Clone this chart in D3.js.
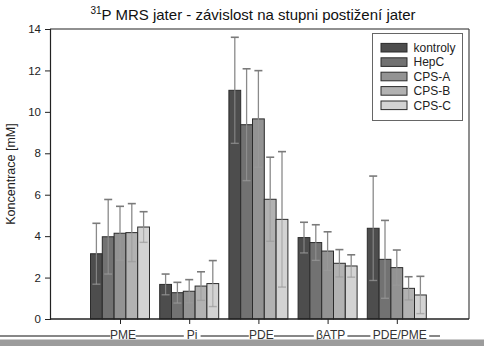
<!DOCTYPE html>
<html>
<head>
<meta charset="utf-8">
<script src="https://cdn.jsdelivr.net/npm/d3@7"></script>
<style>
  body { margin: 0; background: #fff; }
  svg { display: block; font-family: "Liberation Sans", Arial, sans-serif; }
</style>
</head>
<body>
<div id="graph"></div>
<script>
/* data */
const categories = ["PME", "Pi", "PDE", "βATP", "PDE/PME"]
const groups = ["kontroly", "HepC", "CPS-A", "CPS-B", "CPS-C"]
const colors = ["#4d4d4d", "#727272", "#939393", "#b2b2b2", "#d3d3d3"]
const yTicks = [0, 2, 4, 6, 8, 10, 12, 14]

// means per group, in category order
const kontroly = [3.15, 1.67, 11.04, 3.93, 4.38]
const hepC     = [3.97, 1.27, 9.38, 3.69, 2.88]
const cpsA     = [4.14, 1.34, 9.66, 3.28, 2.48]
const cpsB     = [4.17, 1.59, 5.78, 2.69, 1.48]
const cpsC     = [4.44, 1.71, 4.81, 2.56, 1.16]
// standard deviations
const kontrolySd = [1.47, 0.50, 2.56, 0.74, 2.52]
const hepCSd     = [1.80, 0.50, 2.70, 0.86, 1.88]
const cpsASd     = [1.30, 0.56, 2.33, 0.93, 0.85]
const cpsBSd     = [1.40, 0.69, 2.03, 0.66, 0.56]
const cpsCSd     = [0.74, 1.11, 3.27, 0.54, 0.90]

const means = [kontroly, hepC, cpsA, cpsB, cpsC]
const sds = [kontrolySd, hepCSd, cpsASd, cpsBSd, cpsCSd]

window.addEventListener("DOMContentLoaded", main)

function main() {
    const W = 484, H = 346
    const L = 50, R = 469, T = 29, B = 319

    const svg = d3.select("#graph").append("svg").attr("width", W).attr("height", H)

    /* bottom strip (scan artefacts) */
    svg.append("line").attr("x1", 0).attr("x2", 440).attr("y1", 336).attr("y2", 336)
        .attr("stroke", "#111").attr("stroke-width", 1.2)

    /* title */
    const title = svg.append("text").attr("x", 253).attr("y", 20)
        .attr("text-anchor", "middle").style("font-size", "15px").attr("fill", "#111")
    title.append("tspan").text("31").style("font-size", "10px").attr("dy", "-6")
    title.append("tspan").text("P MRS jater - závislost na stupni postižení jater").attr("dy", "6")

    /* scales */
    const y = d3.scaleLinear().domain([0, 14]).range([B, T])
    const x = d3.scalePoint().domain(categories).range([120, 396.8])
    const xInner = d3.scaleBand().domain(groups).range([-29.5, 29.5])

    /* frame */
    svg.append("line").attr("x1", L).attr("x2", R).attr("y1", T).attr("y2", T)
        .attr("stroke", "#222").attr("stroke-width", 1.2)
    svg.append("line").attr("x1", R).attr("x2", R).attr("y1", T).attr("y2", B)
        .attr("stroke", "#444").attr("stroke-width", 1.2)

    /* y axis */
    const yAxis = d3.axisLeft(y).tickValues(yTicks).tickSize(5).tickPadding(4)
    const ya = svg.append("g").attr("transform", "translate(" + L + ",0)").call(yAxis)
    ya.select(".domain").attr("stroke", "#222").attr("stroke-width", 1.2)
    ya.selectAll(".tick line").attr("stroke", "#222")
    ya.selectAll("text").style("font-size", "11.5px").attr("fill", "#222")
        .style("font-family", "Liberation Sans, Arial, sans-serif")

    svg.append("text")
        .attr("transform", "translate(15," + ((T + B) / 2) + ") rotate(-90)")
        .attr("text-anchor", "middle").style("font-size", "12.5px").attr("fill", "#222")
        .text("Koncentrace [mM]")

    /* bars */
    const rows = []
    categories.forEach((c, ci) => {
        groups.forEach((g, gi) => {
            rows.push({ cat: c, group: g, gi: gi, v: means[gi][ci], sd: sds[gi][ci] })
        })
    })

    svg.selectAll(".bar").data(rows).enter().append("rect")
        .attr("class", "bar")
        .attr("x", d => x(d.cat) + xInner(d.group))
        .attr("y", d => y(d.v))
        .attr("width", xInner.bandwidth())
        .attr("height", d => B - y(d.v))
        .attr("fill", d => colors[d.gi])
        .attr("stroke", "#2b2b2b").attr("stroke-width", 1)

    /* error bars */
    const eb = svg.selectAll(".err").data(rows).enter().append("g").attr("class", "err")
        .attr("transform", d => "translate(" + (x(d.cat) + xInner(d.group) + xInner.bandwidth() / 2) + ",0)")
    eb.append("line").attr("x1", 0).attr("x2", 0)
        .attr("y1", d => y(d.v)).attr("y2", d => y(d.v + d.sd))
        .attr("stroke", "#8a8a8a").attr("stroke-width", 1.3)
    eb.append("line").attr("x1", 0).attr("x2", 0)
        .attr("y1", d => y(d.v)).attr("y2", d => y(Math.max(0, d.v - d.sd)))
        .attr("stroke", "#9a9a9a").attr("stroke-opacity", 0.7).attr("stroke-width", 1.2)
    eb.append("line").attr("x1", -4).attr("x2", 4)
        .attr("y1", d => y(d.v + d.sd)).attr("y2", d => y(d.v + d.sd))
        .attr("stroke", "#7a7a7a").attr("stroke-width", 1.6)
    eb.append("line").attr("x1", -4).attr("x2", 4)
        .attr("y1", d => y(Math.max(0, d.v - d.sd))).attr("y2", d => y(Math.max(0, d.v - d.sd)))
        .attr("stroke", "#9a9a9a").attr("stroke-opacity", 0.7).attr("stroke-width", 1.4)

    /* x axis */
    const xAxis = d3.axisBottom(x).tickSize(5).tickFormat("")
    const xa = svg.append("g").attr("transform", "translate(0," + B + ")").call(xAxis)
    xa.select(".domain").remove()
    xa.selectAll(".tick line").attr("stroke", "#222")
    svg.append("line").attr("x1", L).attr("x2", R).attr("y1", B).attr("y2", B)
        .attr("stroke", "#222").attr("stroke-width", 1.4)

    /* category labels sit in the damaged bottom strip */
    const labs = svg.selectAll(".xl").data(categories).enter().append("g").attr("class", "xl")
    labs.append("rect")
        .attr("x", d => x(d) + 3 - d.length * 4.2).attr("y", 326)
        .attr("width", d => d.length * 8.4).attr("height", 14).attr("fill", "#fff")
    labs.append("text")
        .attr("x", d => x(d) + 3).attr("y", 339)
        .attr("text-anchor", "middle").style("font-size", "12px").attr("fill", "#333")
        .text(d => d)
    svg.append("rect").attr("x", 0).attr("y", 339.5).attr("width", W).attr("height", 7)
        .attr("fill", "#9c9c9c")

    /* legend */
    const lg = svg.append("g")
    lg.append("rect").attr("x", 372.5).attr("y", 33.5).attr("width", 90).attr("height", 87)
        .attr("fill", "#fff").attr("stroke", "#666")
    const li = lg.selectAll(".li").data(groups).enter().append("g")
        .attr("transform", (d, i) => "translate(381," + (47.7 + i * 14.4) + ")")
    li.append("rect").attr("x", 0).attr("y", -4.3).attr("width", 26).attr("height", 8.6)
        .attr("fill", (d, i) => colors[i]).attr("stroke", "#2b2b2b")
    li.append("text").attr("x", 32.5).attr("y", 4.3)
        .style("font-size", "12px").attr("fill", "#222").text(d => d)
}
</script>
</body>
</html>
